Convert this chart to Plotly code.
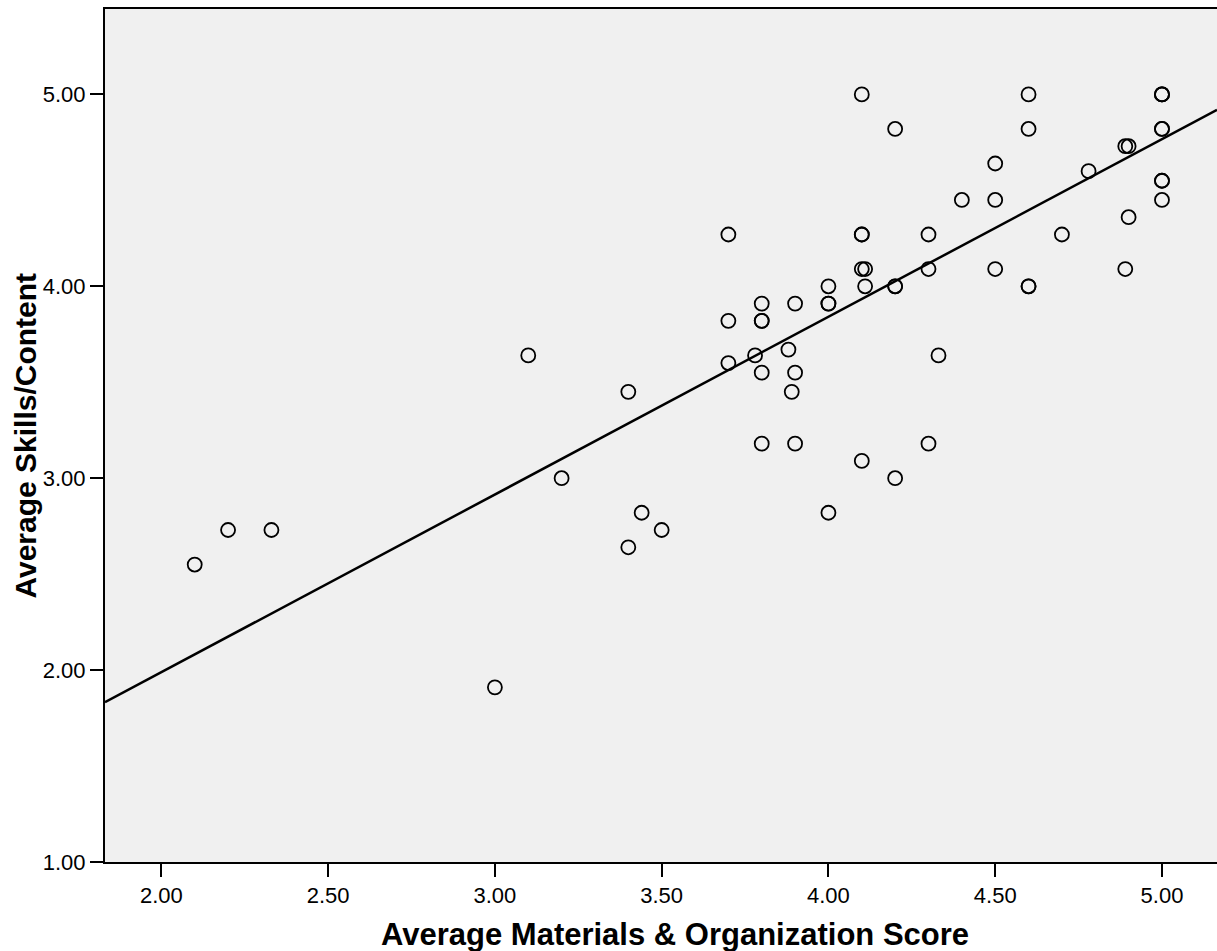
import plotly.graph_objects as go

# Average Materials & Organization score per respondent
materials_score = [
    2.10, 2.20, 2.33, 3.00, 3.10, 3.20, 3.40, 3.40, 3.44, 3.50,
    3.70, 3.70, 3.70, 3.78, 3.80, 3.80, 3.80, 3.80, 3.80, 3.88, 3.89, 3.90, 3.90, 3.90,
    4.00, 4.00, 4.00, 4.00, 4.10, 4.10, 4.10, 4.10, 4.11, 4.11, 4.10,
    4.20, 4.20, 4.20, 4.20, 4.30, 4.30, 4.30, 4.33, 4.40, 4.50, 4.50, 4.50,
    4.60, 4.60, 4.60, 4.60, 4.70, 4.78, 4.89, 4.90, 4.90, 4.89,
    5.00, 5.00, 5.00, 5.00, 5.00, 5.00, 5.00, 5.00,
]

# Average Skills/Content score per respondent
skills_score = [
    2.55, 2.73, 2.73, 1.91, 3.64, 3.00, 3.45, 2.64, 2.82, 2.73,
    4.27, 3.82, 3.60, 3.64, 3.91, 3.82, 3.82, 3.55, 3.18, 3.67, 3.45, 3.91, 3.55, 3.18,
    4.00, 3.91, 3.91, 2.82, 5.00, 4.27, 4.27, 4.09, 4.09, 4.00, 3.09,
    4.82, 4.00, 4.00, 3.00, 4.27, 4.09, 3.18, 3.64, 4.45, 4.64, 4.45, 4.09,
    5.00, 4.82, 4.00, 4.00, 4.27, 4.60, 4.73, 4.73, 4.36, 4.09,
    5.00, 5.00, 5.00, 4.82, 4.82, 4.55, 4.55, 4.45,
]

# Linear fit line (total)
fit_intercept = 0.137
fit_slope = 0.926

x_range = [1.831, 5.165]
y_range = [1.0, 5.445]
x_ticks = [2.0, 2.5, 3.0, 3.5, 4.0, 4.5, 5.0]
y_ticks = [1.0, 2.0, 3.0, 4.0, 5.0]

fit_x = list(x_range)
fit_y = [fit_intercept + fit_slope * v for v in fit_x]

fig = go.Figure()

fig.add_trace(go.Scatter(
    x=fit_x, y=fit_y, mode="lines",
    line=dict(color="black", width=2.5),
    hoverinfo="skip", showlegend=False,
))

fig.add_trace(go.Scatter(
    x=materials_score, y=skills_score, mode="markers",
    marker=dict(symbol="circle-open", size=14, color="black",
                line=dict(color="black", width=1.8)),
    showlegend=False,
))

tick_font = dict(family="Liberation Sans, Arial, sans-serif", size=22, color="black")
x_title_font = dict(family="Liberation Sans, Arial, sans-serif", size=31, color="black")
y_title_font = dict(family="Liberation Sans, Arial, sans-serif", size=30, color="black")

fig.update_layout(
    width=1217, height=951,
    margin=dict(l=105, r=0, t=9, b=89),
    paper_bgcolor="white",
    plot_bgcolor="#f0f0f0",
    showlegend=False,
    xaxis=dict(
        range=x_range, tickvals=x_ticks,
        ticktext=[f"{v:.2f}" for v in x_ticks],
        showgrid=False, zeroline=False,
        showline=True, linecolor="black", linewidth=2, mirror=True,
        ticks="outside", ticklen=13, tickwidth=2, tickcolor="black",
        tickfont=tick_font,
    ),
    yaxis=dict(
        range=y_range, tickvals=y_ticks,
        ticktext=[f"{v:.2f}" for v in y_ticks],
        showgrid=False, zeroline=False,
        showline=True, linecolor="black", linewidth=2,
        ticks="outside", ticklen=13, tickwidth=2, tickcolor="black",
        tickfont=tick_font,
    ),
    annotations=[
        dict(text="<b>Average Materials & Organization Score</b>",
             xref="paper", yref="paper", x=0.513, y=-0.0855,
             xanchor="center", yanchor="middle", showarrow=False,
             font=x_title_font),
        dict(text="<b>Average Skills/Content</b>",
             xref="paper", yref="paper", x=-0.0719, y=0.5,
             xanchor="center", yanchor="middle", textangle=-90,
             showarrow=False, font=y_title_font),
    ],
)

fig.write_html("out.html")
